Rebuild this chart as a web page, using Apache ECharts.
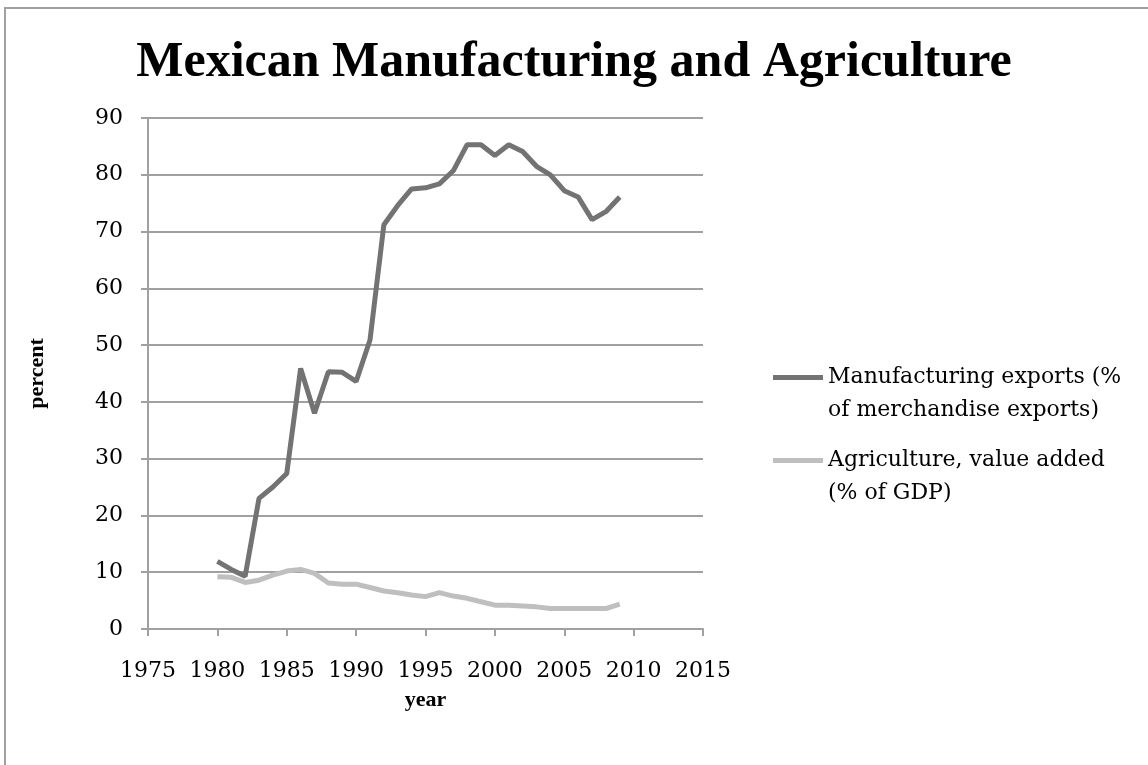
<!DOCTYPE html>
<html>
<head>
<meta charset="utf-8">
<script src="https://cdn.jsdelivr.net/npm/echarts@6/dist/echarts.min.js"></script>
<style>
html,body{margin:0;padding:0;background:#fff;}
#chart{width:1148px;height:765px;}
</style>
</head>
<body>
<div id="chart"></div>
<script>
const years = [1980,1981,1982,1983,1984,1985,1986,1987,1988,1989,1990,1991,1992,1993,1994,1995,1996,1997,1998,1999,2000,2001,2002,2003,2004,2005,2006,2007,2008,2009];
const manufacturing = [11.9,10.5,9.3,23.0,25.0,27.4,45.9,38.0,45.3,45.2,43.6,50.9,71.2,74.6,77.5,77.7,78.4,80.7,85.3,85.3,83.4,85.3,84.1,81.5,80.0,77.2,76.1,72.1,73.5,76.1];
const agriculture = [9.2,9.1,8.2,8.6,9.5,10.2,10.5,9.8,8.1,7.9,7.9,7.3,6.7,6.4,6.0,5.7,6.4,5.8,5.4,4.8,4.2,4.2,4.05,3.9,3.6,3.6,3.6,3.6,3.6,4.4];
const seriesNames = ['Manufacturing exports (%\nof merchandise exports)', 'Agriculture, value added\n(% of GDP)'];
const titleText = 'Mexican Manufacturing and Agriculture';
const xAxisName = 'year';
const yAxisName = 'percent';

const TITLE_FONT = '"Liberation Serif", "DejaVu Serif", serif';
const FONT = '"DejaVu Serif", "Liberation Serif", serif';
const chart = echarts.init(document.getElementById('chart'));
const legendText = {fontFamily: FONT, fontSize: 22, color: '#000', lineHeight: 33};
const legendCommon = {orient:'vertical', icon:'rect', itemWidth: 50, itemHeight: 5, padding: 0,
  textStyle: legendText, formatter: n => '\n' + n};
chart.setOption({
  animation: false,
  backgroundColor: '#fff',
  title: {
    text: titleText, left: 'center', top: 33,
    textStyle: {fontFamily: TITLE_FONT, fontSize: 50, fontWeight: 'bold', color: '#000'}
  },
  graphic: [{type:'rect', shape:{x:5, y:8, width:1200, height:800}, style:{fill:'none', stroke:'#a0a0a0', lineWidth:2}, silent:true}],
  legend: [
    Object.assign({data:[seriesNames[0]], left: 773, top: 328}, legendCommon),
    Object.assign({data:[seriesNames[1]], left: 773, top: 411}, legendCommon)
  ],
  grid: {left: 148, right: 445, top: 118, bottom: 136, containLabel: false},
  xAxis: {
    type: 'value', min: 1975, max: 2015, interval: 5,
    name: xAxisName, nameLocation: 'middle', nameGap: 60,
    nameTextStyle: {fontFamily: TITLE_FONT, fontSize: 22, fontWeight: 'bold', color: '#000'},
    axisLine: {show: true, lineStyle: {color: '#a0a0a0', width: 2}},
    axisTick: {show: true, length: 7, lineStyle: {color: '#a0a0a0', width: 2}},
    axisLabel: {fontFamily: FONT, fontSize: 22, color: '#000', margin: 31, formatter: v => String(v)},
    splitLine: {show: false}
  },
  yAxis: {
    type: 'value', min: 0, max: 90, interval: 10,
    name: yAxisName, nameLocation: 'middle', nameGap: 100, nameRotate: 90,
    nameTextStyle: {fontFamily: TITLE_FONT, fontSize: 22, fontWeight: 'bold', color: '#000'},
    axisLine: {show: true, lineStyle: {color: '#a0a0a0', width: 2}},
    axisTick: {show: true, length: 7, lineStyle: {color: '#a0a0a0', width: 2}},
    axisLabel: {fontFamily: FONT, fontSize: 22, color: '#000', margin: 25},
    splitLine: {show: true, lineStyle: {color: '#a0a0a0', width: 2}}
  },
  series: [
    {name: seriesNames[0], type: 'line', data: years.map((y,i)=>[y, manufacturing[i]]), showSymbol: false, symbol:'none',
     lineStyle: {color: '#737373', width: 5}, itemStyle: {color: '#737373'}},
    {name: seriesNames[1], type: 'line', data: years.map((y,i)=>[y, agriculture[i]]), showSymbol: false, symbol:'none',
     lineStyle: {color: '#bfbfbf', width: 5}, itemStyle: {color: '#bfbfbf'}}
  ]
});
</script>
</body>
</html>
